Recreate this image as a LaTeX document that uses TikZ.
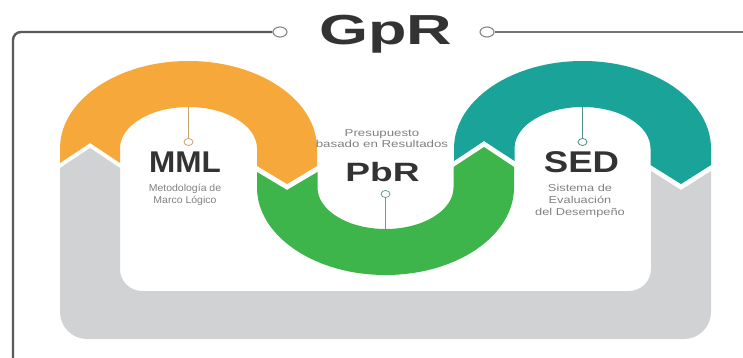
\documentclass[tikz,border=0pt]{standalone}
\usepackage{fontspec}
\setmainfont{Liberation Sans}
\usetikzlibrary{shapes.geometric}
\definecolor{mmlorange}{HTML}{F7A83B}
\definecolor{pbrgreen}{HTML}{3DB54A}
\definecolor{sedteal}{HTML}{19A399}
\definecolor{bandgray}{HTML}{D1D2D4}
\definecolor{framegray}{HTML}{5A5A5A}
\definecolor{labelgray}{HTML}{808080}
\definecolor{titlegray}{HTML}{333333}
\definecolor{mmlpin}{HTML}{C9A46A}
\definecolor{pbrpin}{HTML}{6F9E77}
\definecolor{sedpin}{HTML}{4C8F8B}
\begin{document}
\begin{tikzpicture}[x=1pt,y=-1pt,
  pindot/.style={ellipse,draw,fill=white,line width=0.8pt,inner sep=0pt,minimum width=9pt,minimum height=7pt},
  holering/.style={ellipse,draw=framegray!75,line width=1.1pt,inner sep=0pt,minimum width=14pt,minimum height=10pt},
  acronym/.style={font=\fontsize{30}{30}\selectfont\bfseries,text=titlegray,inner sep=0pt,anchor=base},
  sublabel/.style={font=\fontsize{10}{12}\selectfont,text=labelgray,inner sep=0pt,align=center,anchor=north}]
\useasboundingbox (0,0) rectangle (743,358);
\node[holering] (lefthole) at (280,32) {};
\node[holering] (righthole) at (487,32) {};
\coordinate (framecorner) at (13,32);
\coordinate (framefoot) at (13,358);
\coordinate (frameend) at (743,32);
\draw[framegray,line width=2.4pt,rounded corners=8pt] (lefthole.west) -- (framecorner) -- (framefoot);
\draw[framegray!85,line width=1.6pt] (righthole.east) -- (frameend);
\node[acronym,font=\fontsize{42}{42}\selectfont\bfseries,xscale=1.5] (gpr) at (385.5,45) {GpR};
\fill[bandgray] (60,168) -- (90,148) -- (120,168) -- (120,269) arc[start angle=180,end angle=90,radius=22]
  -- (629,291) arc[start angle=90,end angle=0,radius=22] -- (651,171) -- (681,190) -- (711,171)
  -- (711,312) arc[start angle=0,end angle=90,radius=27] -- (87,339) arc[start angle=90,end angle=180,radius=27] -- cycle;
\fill[mmlorange] (60,163) -- (60,148.5) arc[start angle=180,end angle=360,x radius=128.5,y radius=87.5]
  -- (317,166) -- (287,184) -- (257,166) -- (257,148.5) arc[start angle=360,end angle=180,x radius=68.5,y radius=41.5]
  -- (120,163) -- (90,143) -- cycle;
\fill[pbrgreen] (257,172) -- (257,187.5) arc[start angle=180,end angle=0,x radius=128.5,y radius=87.5]
  -- (514,167) -- (484,147) -- (453.5,167) -- (453.5,187.5) arc[start angle=0,end angle=180,x radius=68,y radius=41.5]
  -- (317.5,172) -- (287,190) -- cycle;
\fill[sedteal] (454,161) -- (454,148.5) arc[start angle=180,end angle=360,x radius=128.5,y radius=87.5]
  -- (711,165) -- (681,184) -- (650.5,165) -- (650.5,148.5) arc[start angle=360,end angle=180,x radius=68,y radius=41.5]
  -- (514.5,161) -- (484,141) -- cycle;
\coordinate (mmltop) at (188.5,107);
\coordinate (sedtop) at (582.5,107);
\coordinate (pbrfoot) at (385.5,229);
\node[pindot,draw=mmlpin] (mmldot) at (188.5,142) {};
\node[pindot,draw=sedpin] (seddot) at (582.5,142) {};
\node[pindot,draw=pbrpin] (pbrdot) at (385.5,194) {};
\draw[mmlpin,line width=0.8pt] (mmldot) -- (mmltop);
\draw[sedpin,line width=0.8pt] (seddot) -- (sedtop);
\draw[pbrpin,line width=0.8pt] (pbrdot) -- (pbrfoot);
\node[acronym,xscale=1.05] (mml) at (185,172) {MML};
\node[sublabel,xscale=1.05] (mmltext) at (185,184) {Metodología de\\Marco Lógico};
\node[acronym,font=\fontsize{26.5}{26.5}\selectfont\bfseries,xscale=1.4] (pbr) at (382.5,182) {PbR};
\node[sublabel,xscale=1.33,font=\fontsize{10}{11}\selectfont] (pbrtext) at (382,129) {Presupuesto\\basado en Resultados};
\node[acronym,xscale=1.22] (sed) at (581.5,172) {SED};
\node[sublabel,xscale=1.28] (sedtext) at (580,184) {Sistema de\\Evaluación\\del Desempeño};
\end{tikzpicture}
\end{document}
